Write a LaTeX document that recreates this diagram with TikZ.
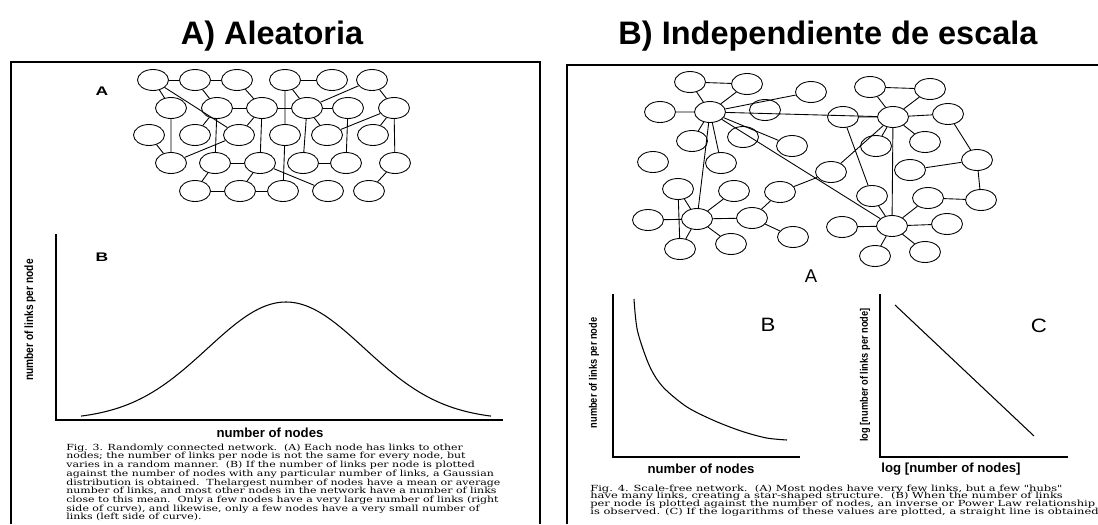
\documentclass[tikz,border=0pt]{standalone}
\usepackage{fontspec}
\setmainfont{Liberation Serif}
\newfontfamily\headfont{Liberation Sans}
\newfontfamily\axisfont[FakeStretch=0.85]{Liberation Sans}
\newfontfamily\panelfont[FakeStretch=1.4]{Liberation Sans}
\newfontfamily\plotfont[FakeStretch=1.15]{Liberation Sans}
\newfontfamily\capfont[FakeStretch=1.3]{DejaVu Serif}
\newfontfamily\capfontB[FakeStretch=1.36]{DejaVu Serif}
\newcommand\capsizeA{\capfont\fontsize{4.8}{4.96}\selectfont\lineskiplimit=-10pt\relax}
\newcommand\capsizeB{\capfontB\fontsize{4.8}{4.35}\selectfont\lineskiplimit=-10pt\relax}
\usetikzlibrary{shapes.geometric}

\begin{document}
\begin{tikzpicture}[x=0.02cm,y=-0.02cm]
\tikzset{nd/.style={ellipse,draw,line width=.5pt,minimum width=.62cm,minimum height=.42cm,inner sep=0pt},
lnk/.style={line width=.5pt},
ttl/.style={font=\headfont\bfseries\fontsize{18.5}{20}\selectfont,anchor=base},
ylab/.style={font=\axisfont\bfseries\fontsize{6.8}{8}\selectfont,rotate=90,inner sep=0pt},
xlab/.style={font=\headfont\bfseries\fontsize{7.5}{9}\selectfont,inner sep=0pt},
captxt/.style={font=\capsizeA,align=left,anchor=north west,inner sep=0pt}}
\useasboundingbox (0,0) rectangle (1098,524);
%titles
\node[ttl] (titA) at (272,44) {A) Aleatoria};
\node[ttl] (titB) at (828,44) {B) Independiente de escala};
%panel frames (bottom runs off the page)
\draw[line width=.8pt] (11,524) -- (11,62) -- (540,62) -- (540,524);
\draw[line width=.8pt] (567,524) -- (567,65) -- (1100,65);

%%%%% left panel: random network
\node[font=\panelfont\bfseries\fontsize{7.1}{8}\selectfont] (lA) at (102,91) {A};
%row 1
\node[nd] (r11) at (153,80) {}; \node[nd] (r12) at (195,80) {}; \node[nd] (r13) at (237,80) {};
\node[nd] (r14) at (285,80) {}; \node[nd] (r15) at (332,80) {}; \node[nd] (r16) at (372,80) {};
%row 2
\node[nd] (r21) at (171,108) {}; \node[nd] (r22) at (217,108) {}; \node[nd] (r23) at (262,108) {};
\node[nd] (r24) at (307,108) {}; \node[nd] (r25) at (348,108) {}; \node[nd] (r26) at (394,108) {};
%row 3
\node[nd] (r31) at (149,135) {}; \node[nd] (r32) at (195,135) {}; \node[nd] (r33) at (239,135) {};
\node[nd] (r34) at (285,135) {}; \node[nd] (r35) at (327,135) {}; \node[nd] (r36) at (373,135) {};
%row 4
\node[nd] (r41) at (171,163) {}; \node[nd] (r42) at (215,163) {}; \node[nd] (r43) at (260,163) {};
\node[nd] (r44) at (303,163) {}; \node[nd] (r45) at (346,163) {}; \node[nd] (r46) at (395,163) {};
%row 5
\node[nd] (r51) at (195,191) {}; \node[nd] (r52) at (240,191) {}; \node[nd] (r53) at (283,191) {};
\node[nd] (r54) at (328,191) {}; \node[nd] (r55) at (369,191) {};
%links
\draw[lnk] (r11) -- (r12) (r12) -- (r13) (r14) -- (r15);
\draw[lnk] (r11) -- (r21) (r12) -- (r22) (r13) -- (r23) (r14) -- (r24) (r16) -- (r24) (r16) -- (r26);
\draw[lnk] (r11) -- (r33) (r14) -- (r34);
\draw[lnk] (r22) -- (r23) (r23) -- (r24) (r24) -- (r25);
\draw[lnk] (r21) -- (r41) (r22) -- (r32) (r22) -- (r42) (r23) -- (r33) (r23) -- (r43);
\draw[lnk] (r24) -- (r35) (r24) -- (r44) (r25) -- (r45) (r26) -- (r35) (r26) -- (r36) (r26) -- (r46);
\draw[lnk] (r31) -- (r41) (r41) -- (r33) (r34) -- (r53);
\draw[lnk] (r42) -- (r43) (r44) -- (r45);
\draw[lnk] (r42) -- (r51) (r43) -- (r52) (r43) -- (r54) (r46) -- (r55);
\draw[lnk] (r51) -- (r52) (r52) -- (r53);

%gaussian plot
\node[font=\panelfont\bfseries\fontsize{7.1}{8}\selectfont] (lB) at (102,257) {B};
\draw[line width=.7pt] (56,234) -- (56,420) -- (503,420);
\draw[line width=.6pt] plot[domain=81:491,samples=90,smooth] (\x,{420-118/exp(((\x-286)/100)^2/1.2332)});
\node[ylab] (ylA) at (30,320) {number of links per node};
\node[xlab] (xlA) at (270,433) {number of nodes};
\node[captxt] (capA) at (66,443.5) {Fig. 3. Randomly connected network.\ \ (A) Each node has links to other\\
nodes; the number of links per node is not the same for every node, but\\
varies in a random manner.\ \ (B) If the number of links per node is plotted\\
against the number of nodes with any particular number of links, a Gaussian\\
distribution is obtained.\ \ Thelargest number of nodes have a mean or average\\
number of links, and most other nodes in the network have a number of links\\
close to this mean.\ \ Only a few nodes have a very large number of links (right\\
side of curve), and likewise, only a few nodes have a very small number of\\
links (left side of curve).};

%%%%% right panel: scale-free network
%hubs
\node[nd] (h1) at (710,112) {}; \node[nd] (h2) at (697,219) {};
\node[nd] (h3) at (893,117) {}; \node[nd] (h4) at (892,226) {};
%other nodes
\node[nd] (s1) at (690,82) {}; \node[nd] (s2) at (747,84) {}; \node[nd] (s3) at (811,92) {};
\node[nd] (s4) at (660,112) {}; \node[nd] (s5) at (765,110) {}; \node[nd] (s6) at (843,117) {};
\node[nd] (s7) at (692,141) {}; \node[nd] (s8) at (743,137) {}; \node[nd] (s9) at (792,146) {};
\node[nd] (s10) at (653,162) {}; \node[nd] (s11) at (721,163) {}; \node[nd] (s12) at (831,172) {};
\node[nd] (s13) at (678,189) {}; \node[nd] (s14) at (734,191) {}; \node[nd] (s15) at (780,192) {};
\node[nd] (s16) at (648,220) {}; \node[nd] (s17) at (752,218) {};
\node[nd] (s18) at (680,249) {}; \node[nd] (s19) at (731,244) {}; \node[nd] (s20) at (793,237) {};
\node[nd] (s21) at (842,227) {};
\node[nd] (s23) at (870,87) {}; \node[nd] (s24) at (930,89) {}; \node[nd] (s25) at (948,114) {};
\node[nd] (s26) at (876,146) {}; \node[nd] (s27) at (925,142) {}; \node[nd] (s28) at (910,170) {};
\node[nd] (s29) at (977,160) {}; \node[nd] (s30) at (872,196) {}; \node[nd] (s31) at (928,198) {};
\node[nd] (s32) at (981,200) {}; \node[nd] (s34) at (947,224) {};
\node[nd] (s35) at (875,256) {}; \node[nd] (s36) at (925,252) {};
%links of hub 1
\draw[lnk] (s1) -- (s2) (s1) -- (h1) (s2) -- (h1) (s4) -- (h1) (h1) -- (s3) (h1) -- (h3);
\draw[lnk] (h1) -- (s7) (h1) -- (s11) (h1) -- (h2) (h1) -- (s9) (h1) -- (h4);
%links of hub 2
\draw[lnk] (s13) -- (h2) (s13) -- (s18) (h2) -- (s18) (s16) -- (h2) (h2) -- (s14);
\draw[lnk] (h2) -- (s17) (h2) -- (s19) (s15) -- (s17) (s17) -- (s20) (s15) -- (s12);
%links of hubs 3 and 4
\draw[lnk] (s6) -- (h3) (s6) -- (s30) (s12) -- (h3) (s30) -- (h4) (h3) -- (h4);
\draw[lnk] (h3) -- (s23) (h3) -- (s24) (s23) -- (s24) (h3) -- (s25) (h3) -- (s26) (h3) -- (s27);
\draw[lnk] (s25) -- (s29) (s28) -- (s29) (s29) -- (s32) (s31) -- (s32) (s31) -- (h4);
\draw[lnk] (s21) -- (h4) (h4) -- (s34) (h4) -- (s35) (h4) -- (s36);
\node[font=\headfont\fontsize{10.5}{12}\selectfont] (rA) at (811,276) {A};

%power law plots
\draw[line width=.7pt] (613,294) -- (613,457) -- (800,457);
\draw[line width=.6pt] plot[smooth] coordinates {(634,299) (637.5,331) (649.5,366) (663,387) (687,407) (715,421) (742.5,431.5) (766.6,438) (787,440)};
\node[font=\plotfont\fontsize{11}{12}\selectfont] (rB) at (768,325) {B};
\node[ylab,font=\axisfont\bfseries\fontsize{6.2}{8}\selectfont] (ylB) at (594,373) {number of links per node};
\node[xlab] (xlB) at (701,469) {number of nodes};
\draw[line width=.7pt] (880,294) -- (880,457) -- (1068,457);
\draw[line width=.6pt] (895,305) -- (1034,436);
\node[font=\plotfont\fontsize{11}{12}\selectfont] (rC) at (1039,326) {C};
\node[ylab,font=\axisfont\bfseries\fontsize{6.2}{8}\selectfont] (ylC) at (865,375) {log [number of links per node]};
\node[xlab] (xlC) at (951,469) {log [number of nodes]};
\node[captxt,font=\capsizeB] (capB) at (590,484.5) {Fig. 4. Scale-free network.\ \ (A) Most nodes have very few links, but a few "hubs"\\
have many links, creating a star-shaped structure.\ \ (B) When the number of links\\
per node is plotted against the number of nodes, an inverse or Power Law relationship\\
is observed. (C) If the logarithms of these values are plotted, a straight line is obtained};
\end{tikzpicture}
\end{document}
